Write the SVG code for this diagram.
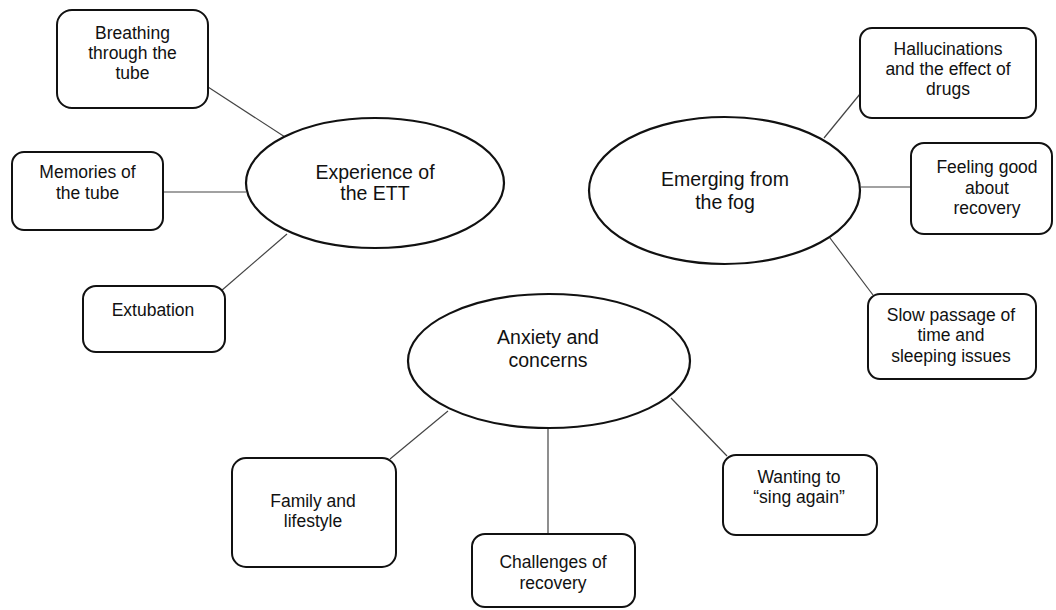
<svg xmlns="http://www.w3.org/2000/svg" width="1056" height="610" viewBox="0 0 1056 610">
<style>
.box{fill:#fff;stroke:#111;stroke-width:2}
.ell{fill:#fff;stroke:#111;stroke-width:2.2}
.con{stroke:#444;stroke-width:1.2;fill:none}
.t{font-family:"Liberation Sans",Arial,sans-serif;font-size:17.5px;fill:#111;text-anchor:middle}
.te{font-family:"Liberation Sans",Arial,sans-serif;font-size:19.5px;fill:#111;text-anchor:middle}
</style>
<rect width="1056" height="610" fill="#fff"/>
<g id="connectors">
<line class="con" x1="208" y1="87" x2="285" y2="137"/>
<line class="con" x1="163" y1="192" x2="246" y2="192"/>
<line class="con" x1="221" y1="291" x2="287" y2="234"/>
<line class="con" x1="860" y1="94" x2="824" y2="138"/>
<line class="con" x1="861" y1="187" x2="911" y2="187"/>
<line class="con" x1="830" y1="238" x2="873" y2="295"/>
<line class="con" x1="390" y1="459" x2="448" y2="411"/>
<line class="con" x1="548" y1="428" x2="548" y2="534"/>
<line class="con" x1="671" y1="398" x2="727" y2="456"/>
</g>
<g id="ett">
<ellipse class="ell" cx="375" cy="183" rx="129" ry="65"/>
<text class="te" x="375" y="179">Experience of</text>
<text class="te" x="375" y="200">the ETT</text>
</g>
<g id="fog">
<ellipse class="ell" cx="724.5" cy="190.5" rx="135.5" ry="73.5"/>
<text class="te" x="725" y="186">Emerging from</text>
<text class="te" x="725" y="209">the fog</text>
</g>
<g id="anxiety">
<ellipse class="ell" cx="549" cy="361" rx="141" ry="67"/>
<text class="te" x="548" y="344">Anxiety and</text>
<text class="te" x="548" y="367">concerns</text>
</g>
<g id="breathing">
<rect class="box" x="57" y="10" width="151" height="98" rx="15"/>
<text class="t" x="132.5" y="39">Breathing</text>
<text class="t" x="132.5" y="59">through the</text>
<text class="t" x="132.5" y="79">tube</text>
</g>
<g id="memories">
<rect class="box" x="12" y="152" width="151" height="78" rx="12"/>
<text class="t" x="87.5" y="178">Memories of</text>
<text class="t" x="87.5" y="199">the tube</text>
</g>
<g id="extubation">
<rect class="box" x="83" y="286" width="142" height="66" rx="13"/>
<text class="t" x="153" y="316">Extubation</text>
</g>
<g id="hallucinations">
<rect class="box" x="860" y="28" width="176" height="90" rx="12"/>
<text class="t" x="948" y="55">Hallucinations</text>
<text class="t" x="948" y="75">and the effect of</text>
<text class="t" x="948" y="95">drugs</text>
</g>
<g id="feeling">
<rect class="box" x="911" y="143" width="141" height="91" rx="13"/>
<text class="t" x="987" y="173">Feeling good</text>
<text class="t" x="987" y="194">about</text>
<text class="t" x="987" y="214">recovery</text>
</g>
<g id="slow">
<rect class="box" x="868" y="294" width="168" height="85" rx="12"/>
<text class="t" x="951" y="321">Slow passage of</text>
<text class="t" x="951" y="341">time and</text>
<text class="t" x="951" y="362">sleeping issues</text>
</g>
<g id="family">
<rect class="box" x="232" y="458" width="164" height="109" rx="14"/>
<text class="t" x="313" y="507">Family and</text>
<text class="t" x="313" y="527">lifestyle</text>
</g>
<g id="challenges">
<rect class="box" x="472" y="534" width="163" height="73" rx="13"/>
<text class="t" x="553" y="568">Challenges of</text>
<text class="t" x="553" y="589">recovery</text>
</g>
<g id="wanting">
<rect class="box" x="723" y="455" width="154" height="80" rx="13"/>
<text class="t" x="799" y="483">Wanting to</text>
<text class="t" x="799" y="503">“sing again”</text>
</g>
</svg>
